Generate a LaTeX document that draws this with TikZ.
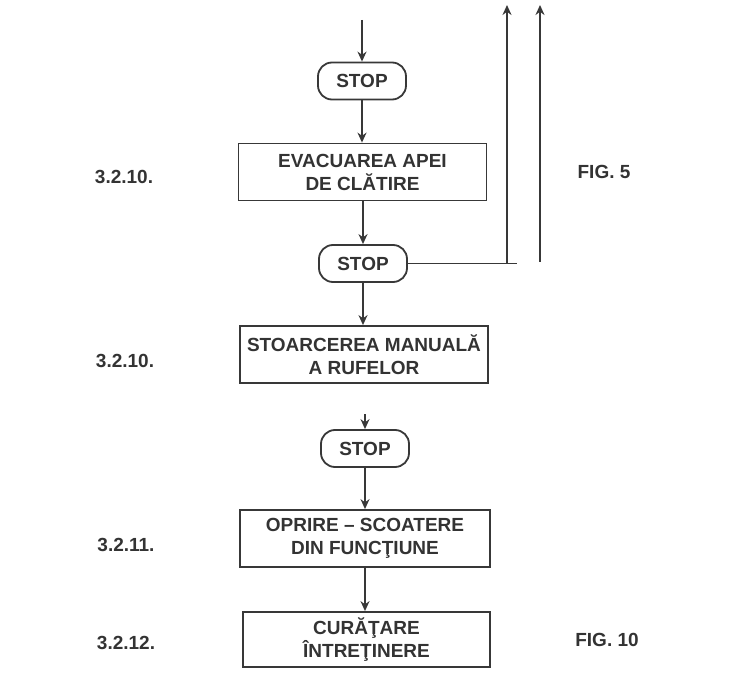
\documentclass[tikz,border=0pt]{standalone}
\usepackage{fontspec}
\setmainfont{Liberation Sans}
\usetikzlibrary{arrows.meta}
\begin{document}
\begin{tikzpicture}[x=1pt,y=-1pt,
  ln/.style={draw=black!78, line width=1.8pt},
  arr/.style={ln, -{Stealth[length=10pt,width=9pt]}},
  txt/.style={text=black!80, font=\bfseries\fontsize{19}{23}\selectfont},
  stopbox/.style={ln, txt, rounded corners=14pt, minimum width=88pt, minimum height=37pt, inner sep=0pt},
  procbox/.style={ln, txt, minimum width=248pt, minimum height=57pt, align=center, inner sep=0pt},
  lbl/.style={txt, inner sep=0pt}]
\useasboundingbox (0,0) rectangle (734,679);
% nodes
\node[stopbox] (stop1) at (362,81) {STOP};
\node[procbox] (b1) at (362.5,172) {EVACUAREA APEI\\DE CLĂTIRE};
\node[stopbox] (stop2) at (363,263.5) {STOP};
\node[procbox] (b2) at (364,354.5) {STOARCEREA MANUALĂ\\A RUFELOR};
\node[stopbox] (stop3) at (365,448.5) {STOP};
\node[procbox, minimum width=250pt] (b3) at (365,538.5) {OPRIRE – SCOATERE\\DIN FUNCŢIUNE};
\node[procbox, minimum width=247pt, minimum height=55pt] (b4) at (366.5,639.5) {CURĂŢARE\\ÎNTREŢINERE};
% labels
\node[lbl] (l1) at (124,177) {3.2.10.};
\node[lbl] (l2) at (125,361) {3.2.10.};
\node[lbl] (l3) at (126,545) {3.2.11.};
\node[lbl] (l4) at (126,643) {3.2.12.};
\node[lbl] (f5) at (604,172) {FIG. 5};
\node[lbl] (f10) at (607,640) {FIG. 10};
% free ends
\coordinate (t0) at (362,20);
\coordinate (j) at (507,263.5);
\coordinate (e1) at (517,263.5);
\coordinate (u1) at (507,5);
\coordinate (s2) at (540,262);
\coordinate (u2) at (540,5);
\coordinate (s3) at (365,414);
% connectors
\draw[arr] (t0) -- (stop1.north);
\draw[arr] (stop1.south) -- (b1.north -| stop1.south);
\draw[arr] (b1.south -| stop2.north) -- (stop2.north);
\draw[arr] (stop2.south) -- (b2.north -| stop2.south);
\draw[ln] (stop2.east) -- (e1);
\draw[arr] (j) -- (u1);
\draw[arr] (s2) -- (u2);
\draw[arr] (s3) -- (stop3.north);
\draw[arr] (stop3.south) -- (b3.north -| stop3.south);
\draw[arr] (b3.south -| stop3.south) -- (b4.north -| stop3.south);
\end{tikzpicture}
\end{document}
